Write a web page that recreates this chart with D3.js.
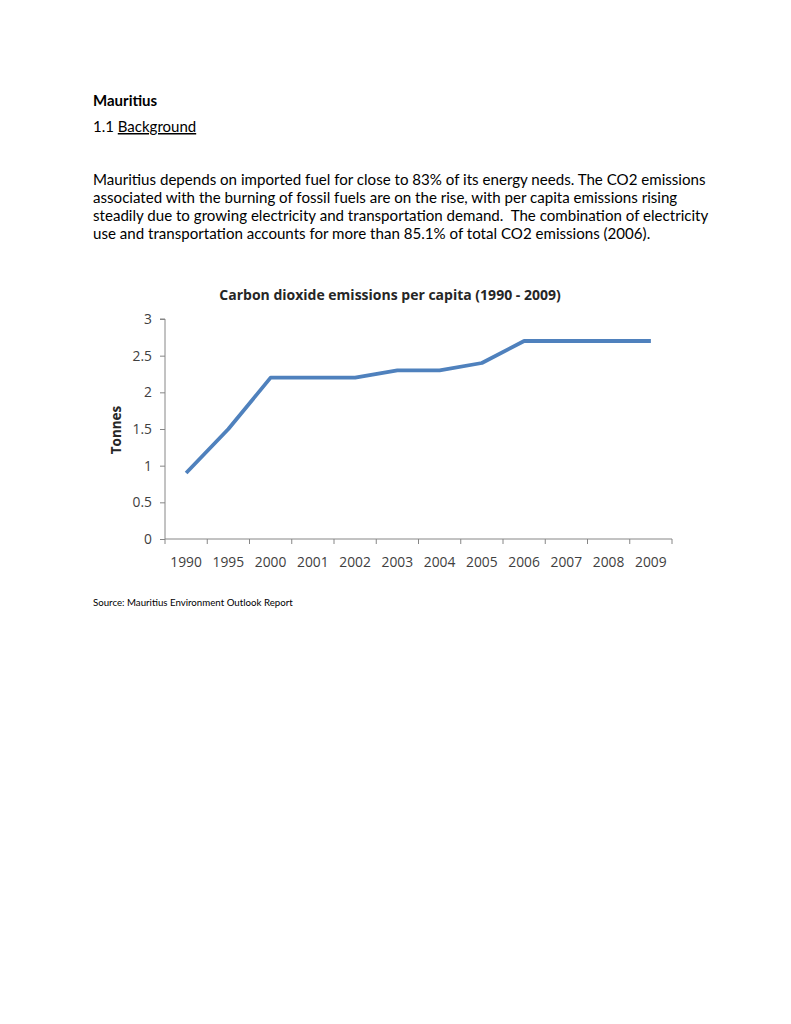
<!DOCTYPE html>
<html><head><meta charset="utf-8">
<script src="https://cdn.jsdelivr.net/npm/d3@7"></script>
<style>
body{margin:0;background:#fff;}
svg{display:block;}
</style></head>
<body>
<svg id="page" width="791" height="1024"></svg>
<script>
const years = ["1990","1995","2000","2001","2002","2003","2004","2005","2006","2007","2008","2009"];
const emissions = [0.9,1.5,2.2,2.2,2.2,2.3,2.3,2.4,2.7,2.7,2.7,2.7];
const yTicks = [0,0.5,1,1.5,2,2.5,3];
const bodyLines = [
 "Mauritius depends on imported fuel for close to 83% of its energy needs. The CO2 emissions",
 "associated with the burning of fossil fuels are on the rise, with per capita emissions rising",
 "steadily due to growing electricity and transportation demand.  The combination of electricity",
 "use and transportation accounts for more than 85.1% of total CO2 emissions (2006)."
];

const svg = d3.select("#page");
svg.append("rect").attr("width",791).attr("height",1024).attr("fill","#fff");
const tf = "Lato, 'Open Sans', sans-serif";
svg.append("text").attr("x",93).attr("y",106).attr("font-family",tf).attr("font-weight","bold")
  .attr("font-size",15).attr("fill","#000").text("Mauritius");
const h = svg.append("text").attr("x",93).attr("y",132).attr("font-family",tf)
  .attr("font-size",15).attr("fill","#000");
h.append("tspan").text("1.1 ");
h.append("tspan").attr("text-decoration","underline").text("Background");
svg.selectAll("text.body").data(bodyLines).enter().append("text").attr("class","body")
  .attr("x",93).attr("y",(d,i)=>185+i*18).attr("font-family",tf).attr("font-size",15.1)
  .attr("fill","#000").style("white-space","pre").text(d=>d);

// chart
const x0=165, x1=672, yTop=319, yBot=539;
const x = d3.scaleBand().domain(years).range([x0,x1]);
const y = d3.scaleLinear().domain([0,3]).range([yBot,yTop]);
const cf = "'Open Sans', 'Noto Sans', sans-serif";
const axisCol = "#868686";

svg.append("text").attr("x",390).attr("y",300).attr("text-anchor","middle")
  .attr("font-family",cf).attr("font-weight","bold").attr("font-size",14).attr("fill","#262626")
  .text("Carbon dioxide emissions per capita (1990 - 2009)");

const ya = svg.append("g").attr("transform",`translate(${x0},0)`)
  .call(d3.axisLeft(y).tickValues(yTicks).tickSize(5).tickPadding(8).tickFormat(d3.format("")));
const xa = svg.append("g").attr("transform",`translate(0,${yBot})`)
  .call(d3.axisBottom(x).tickSize(0).tickPadding(18));
// band boundary ticks
xa.selectAll("line.bt").data(d3.range(years.length+1)).enter().append("line").attr("class","bt")
  .attr("x1",i=>x0+i*x.step()).attr("x2",i=>x0+i*x.step()).attr("y1",0).attr("y2",5);
[ya,xa].forEach(g=>{
  g.selectAll("path.domain").attr("stroke",axisCol).attr("stroke-width",1);
  g.selectAll("line").attr("stroke",axisCol);
  g.selectAll("text").attr("font-family",cf).attr("font-size",13.8).attr("fill","#404040");
});
xa.select("path.domain").attr("d",`M${x0},0H${x1}`);
ya.select("path.domain").attr("d",`M-5,${yTop}H0V${yBot}`);

svg.append("text").attr("transform",`translate(121,430) rotate(-90)`).attr("text-anchor","middle")
  .attr("font-family",cf).attr("font-weight","bold").attr("font-size",13.5).attr("fill","#262626")
  .text("Tonnes");

const line = d3.line().x((d,i)=>x(years[i])+x.bandwidth()/2).y(d=>y(d));
svg.append("path").datum(emissions).attr("d",line).attr("fill","none")
  .attr("stroke","#4F81BD").attr("stroke-width",3.8).attr("stroke-linejoin","round");

svg.append("text").attr("x",93).attr("y",606).attr("font-family",tf).attr("font-size",9.7)
  .attr("fill","#000").text("Source: Mauritius Environment Outlook Report");
</script>
</body></html>
